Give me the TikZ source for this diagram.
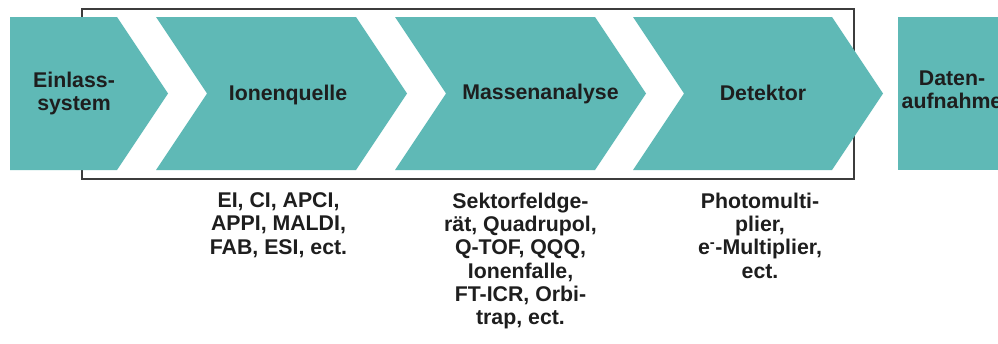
\documentclass[tikz,border=0pt]{standalone}
\usepackage{fontspec}
\setmainfont{Liberation Sans}
\definecolor{teal1}{RGB}{95,185,182}
\definecolor{txt}{RGB}{30,30,30}
\definecolor{frame}{RGB}{60,60,60}
\begin{document}
\begin{tikzpicture}[x=1pt,y=-1pt,
  stage/.style={fill=teal1,draw=none},
  lbl/.style={text=txt,font=\bfseries\fontsize{21.3}{23.5}\selectfont,align=center,inner sep=0pt},
  sub/.style={text=txt,font=\bfseries\fontsize{21.3}{23.3}\selectfont,align=center,inner sep=0pt,anchor=north}]
\useasboundingbox (0,0) rectangle (998,343);
\clip (0,0) rectangle (998,343);
\fill[white] (0,0) rectangle (998,343);
% frame behind the stages
\draw[frame,line width=2pt] (82,8.5) rectangle (853.5,178.5);
% stages
\fill[stage] (10,17) -- (117,17) -- (168,93.5) -- (117,170) -- (10,170) -- cycle;
\fill[stage] (156,17) -- (356,17) -- (407,93.5) -- (356,170) -- (156,170) -- (207,93.5) -- cycle;
\fill[stage] (395,17) -- (595,17) -- (646,93.5) -- (595,170) -- (395,170) -- (446,93.5) -- cycle;
\fill[stage] (633,17) -- (832,17) -- (883,93.5) -- (832,170) -- (633,170) -- (684,93.5) -- cycle;
\fill[stage] (898,17) rectangle (1010,170);
% stage labels
\node[lbl,anchor=north] (einlass) at (74,71.5) {Einlass-\\system};
\node[lbl,anchor=base] (ionen) at (288,100) {Ionenquelle};
\node[lbl,anchor=base] (masse) at (540.5,99) {Massenanalyse};
\node[lbl,anchor=base] (detektor) at (763,100) {Detektor};
\node[lbl,anchor=north] (daten) at (952,70.5) {Daten-\\aufnahme};
% sub labels
\node[sub] (ionsub) at (278.5,192.5) {EI, CI, APCI,\\APPI, MALDI,\\FAB, ESI, ect.};
\node[sub] (massub) at (520.5,192.5) {Sektorfeldge-\\rät, Quadrupol,\\Q-TOF, QQQ,\\Ionenfalle,\\FT-ICR, Orbi-\\trap, ect.};
\node[sub] (detsub) at (760,192.5) {Photomulti-\\plier,\\e\textsuperscript{-}-Multiplier,\\ect.};
\end{tikzpicture}
\end{document}
